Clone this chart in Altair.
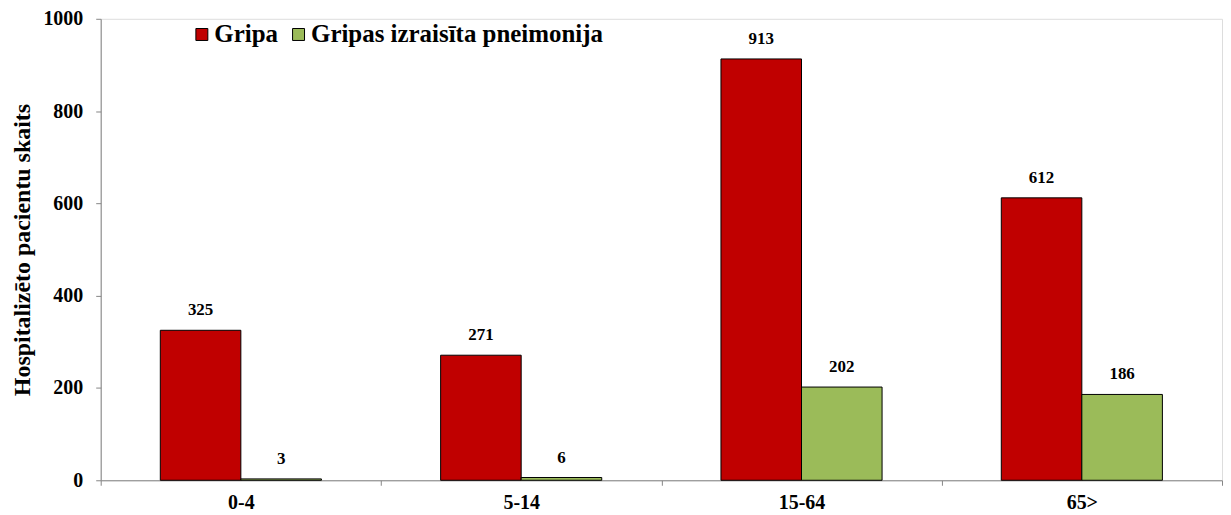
import altair as alt
import pandas as pd

categories = ["0-4", "5-14", "15-64", "65>"]
series = ["Gripa", "Gripas izraisīta pneimonija"]
gripa = [325, 271, 913, 612]
pneimonija = [3, 6, 202, 186]
colors = ["#C00000", "#9BBB59"]

rows = []
for c, g, p in zip(categories, gripa, pneimonija):
    rows.append({"cat": c, "series": series[0], "value": g})
    rows.append({"cat": c, "series": series[1], "value": p})
df = pd.DataFrame(rows)

FONT = "Liberation Serif"
AXIS_GRAY = "#868686"

x = alt.X("cat:N", sort=categories, title=None,
          scale=alt.Scale(paddingInner=0, paddingOuter=0),
          axis=alt.Axis(tickBand="extent", labelAngle=0, labelFont=FONT,
                        labelFontSize=20, labelFontWeight="bold", labelColor="black",
                        labelPadding=7, domainColor=AXIS_GRAY, tickColor=AXIS_GRAY,
                        tickSize=5, grid=False))
xo = alt.XOffset("series:N", sort=series,
                 scale=alt.Scale(paddingInner=0, paddingOuter=0.74))
y = alt.Y("value:Q", title="Hospitalizēto pacientu skaits",
          scale=alt.Scale(domain=[0, 1000], nice=False),
          axis=alt.Axis(values=[0, 200, 400, 600, 800, 1000], grid=False, format="d",
                        labelFont=FONT, labelFontSize=20, labelFontWeight="bold",
                        labelColor="black", labelPadding=13,
                        titleFont=FONT, titleFontSize=24, titleFontWeight="bold",
                        titleColor="black", titlePadding=8,
                        domainColor=AXIS_GRAY, tickColor=AXIS_GRAY, tickSize=5))

base = alt.Chart(df)
bars = base.mark_bar(stroke="black", strokeWidth=1).encode(
    x=x, xOffset=xo, y=y,
    color=alt.Color("series:N", sort=series, title=None,
                    scale=alt.Scale(domain=series, range=colors),
                    legend=alt.Legend(orient="none", legendX=89, legendY=3,
                                      direction="horizontal", symbolType="square",
                                      symbolSize=144, symbolStrokeColor="black",
                                      symbolStrokeWidth=1, labelFont=FONT,
                                      labelFontSize=25, labelFontWeight="bold",
                                      labelColor="black", columnPadding=8,
                                      labelOffset=0, labelLimit=0)),
)
text = base.mark_text(font=FONT, fontSize=17, fontWeight="bold", baseline="alphabetic",
                      dy=-15, color="black").encode(
    x=alt.X("cat:N", sort=categories), xOffset=alt.XOffset("series:N", sort=series),
    y="value:Q", text="value:Q")

chart = alt.layer(bars, text).properties(width=1125, height=463).configure_view(
    stroke=None).configure(padding={"left": 3, "top": 0, "right": 0, "bottom": 0})

chart.save("out.html", embed_options={"renderer": "svg", "actions": False})
